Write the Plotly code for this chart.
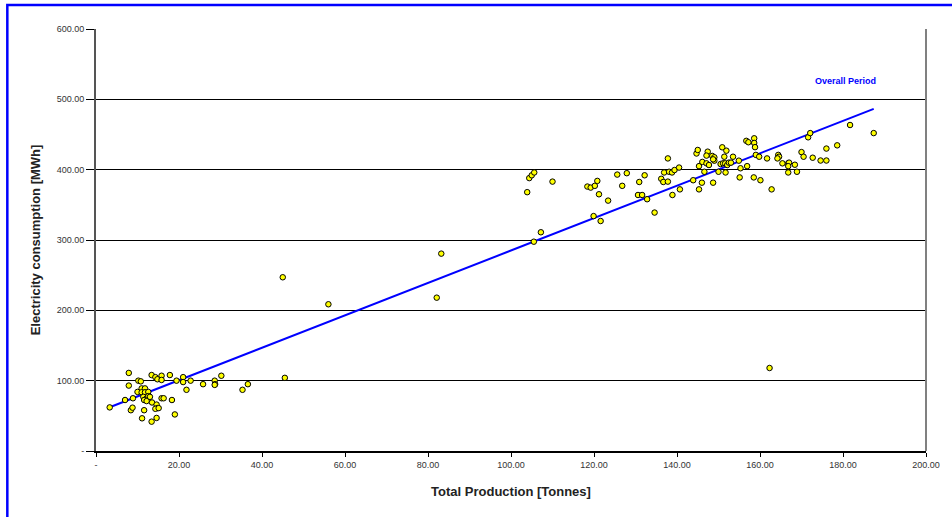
import numpy as np
import plotly.graph_objects as go

# Total Production [Tonnes]
production = [
    3.3, 7.9, 7.9, 7.0, 8.4, 8.8, 10.2, 10.8, 8.9, 10.0, 11.0, 11.8, 11.0, 11.8, 12.6,
    11.4, 12.2, 12.6, 11.6, 12.2, 11.6, 11.1, 13.4, 13.4, 14.3, 14.8, 15.8, 15.8, 13.0,
    13.5, 14.6, 14.8, 14.3, 15.1, 14.6, 15.8, 16.3, 17.8, 18.3, 19.0, 19.4, 21.0, 21.0,
    21.8, 22.8, 25.8, 28.6, 28.7, 28.6, 30.2, 35.3, 36.6,
    45.0, 45.5, 56.0, 82.1, 83.2, 105.5, 107.2,
    103.9, 104.4, 105.0, 105.6, 110.0, 118.4, 119.2, 120.2, 120.8, 121.2, 119.9, 121.6,
    123.4, 125.6, 127.9, 126.8, 130.6, 131.6, 130.9, 132.2, 132.8, 134.6, 136.2, 136.7,
    137.8, 136.9, 137.8, 138.1, 138.8, 139.4, 140.5, 138.9, 140.7, 143.9, 144.7, 145.0,
    145.3, 146.1, 147.1, 147.4, 147.1, 147.7, 148.5, 149.0, 149.0, 148.7, 146.6, 146.0,
    145.3, 148.7, 150.0,
    150.5, 151.1, 151.6, 152.1, 152.5, 153.0, 153.5, 151.4, 150.9, 151.9, 154.9, 151.7,
    155.3, 155.1, 156.9, 156.7, 157.2, 158.6, 158.6, 158.5,
    158.8, 159.0, 159.8, 160.1, 161.7, 162.8, 162.3, 164.4, 164.6, 164.2, 165.4, 166.8,
    167.0, 168.4, 166.8, 166.8, 168.9, 170.0, 170.5, 172.7, 171.6, 172.1, 174.6, 176.0,
    176.0, 178.6, 181.7, 187.4,
]

# Electricity consumption [MWh]
consumption = [
    62, 111, 93, 72.5, 58, 61.6, 100, 99, 75, 84, 89, 89, 83.5, 83.5, 84,
    77, 75, 78, 72.5, 71, 58, 46.5, 41.7, 108, 105, 102, 107, 101, 77,
    69, 66, 61, 60, 61, 47, 75, 75, 108, 72.5, 52, 100, 105, 98,
    87, 100, 95, 100, 95, 94, 107, 87, 95,
    247, 104, 208.6, 218, 280.6, 297.6, 311,
    368, 388, 392, 396, 383, 376, 374.5, 377, 384, 365, 334, 327,
    356, 393, 395, 377, 364, 364, 382.5, 392, 358, 339, 387, 382.5,
    383, 396, 416, 397, 396, 399.5, 403, 364, 372, 385, 423, 428,
    405, 411, 409, 425.6, 420, 406.6, 419.5, 417.6, 412.8, 414.7, 397, 381.5,
    372, 381.5, 397,
    408, 409, 409, 406.6, 410, 410, 418.4, 418.4, 431.8, 427, 412.8, 396,
    402, 389, 405, 441, 439, 444.6, 438, 389,
    432, 421, 418.4, 385, 416, 372, 118, 421, 418.4, 416, 409, 409,
    410, 407, 405, 396, 397, 425, 418.4, 417, 446, 452, 413, 413,
    430, 434.6, 463.5, 452,
]

x_tickvals = [0, 20, 40, 60, 80, 100, 120, 140, 160, 180, 200]
x_ticktext = ["-", "20.00", "40.00", "60.00", "80.00", "100.00", "120.00", "140.00",
              "160.00", "180.00", "200.00"]
y_tickvals = [0, 100, 200, 300, 400, 500, 600]
y_ticktext = ["-", "100.00", "200.00", "300.00", "400.00", "500.00", "600.00"]

xs = np.array(production)
ys = np.array(consumption)
slope, intercept = np.polyfit(xs, ys, 1)
trend_x = np.array([xs.min(), xs.max()])
trend_y = slope * trend_x + intercept

FONT = "Arial, Liberation Sans, sans-serif"

fig = go.Figure()
fig.add_trace(go.Scatter(
    x=trend_x, y=trend_y, mode="lines",
    line=dict(color="#0000FF", width=2), hoverinfo="skip", showlegend=False,
))
fig.add_trace(go.Scatter(
    x=production, y=consumption, mode="markers",
    marker=dict(color="#FFFF00", size=5.5, line=dict(color="#000000", width=1)),
    showlegend=False,
))

fig.add_annotation(
    x=180.5, y=526, text="<b>Overall Period</b>", showarrow=False,
    font=dict(family=FONT, size=9, color="#0000FF"),
)

W, H = 952, 517
L, R, T, B = 96, 23, 29, 66
pw, ph = W - L - R, H - T - B

def px_to_paper_x(px):
    return (px - L) / pw

def px_to_paper_y(py):
    return (H - B - py) / ph

fig.add_shape(
    type="rect", xref="paper", yref="paper",
    x0=px_to_paper_x(7), x1=px_to_paper_x(980),
    y0=px_to_paper_y(540), y1=px_to_paper_y(5),
    line=dict(color="#0000FF", width=2.5), fillcolor="rgba(0,0,0,0)", layer="above",
)
# plot area right border (grey)
fig.add_shape(
    type="line", xref="paper", yref="paper", x0=1, x1=1, y0=0, y1=1,
    line=dict(color="#808080", width=2),
)

fig.update_layout(
    width=W, height=H,
    margin=dict(l=L, r=R, t=T, b=B, pad=0),
    paper_bgcolor="white", plot_bgcolor="white",
    font=dict(family=FONT, size=9, color="#333333"),
    showlegend=False,
)
fig.update_xaxes(
    range=[0, 200], tickvals=x_tickvals, ticktext=x_ticktext,
    showgrid=False, zeroline=False,
    showline=True, linecolor="#000000", linewidth=1.5,
    ticks="outside", ticklen=4, tickcolor="#000000", tickwidth=1,
    tickfont=dict(family=FONT, size=9, color="#333333"),
    title=dict(text="<b>Total Production [Tonnes]</b>", standoff=18,
               font=dict(family=FONT, size=13, color="#222222")),
)
fig.update_yaxes(
    range=[0, 600], tickvals=y_tickvals, ticktext=y_ticktext,
    showgrid=True, gridcolor="#000000", gridwidth=1, zeroline=False,
    showline=True, linecolor="#555555", linewidth=2,
    ticks="outside", ticklen=8, tickcolor="#000000", tickwidth=1,
    tickfont=dict(family=FONT, size=9, color="#333333"),
    title=dict(text="<b>Electricity consumption [MWh]</b>", standoff=13,
               font=dict(family=FONT, size=13, color="#222222")),
)

fig.write_html(
    "out.html",
    config={"displayModeBar": False},
    post_script="document.body.style.margin='0';document.body.style.overflow='hidden';",
)
